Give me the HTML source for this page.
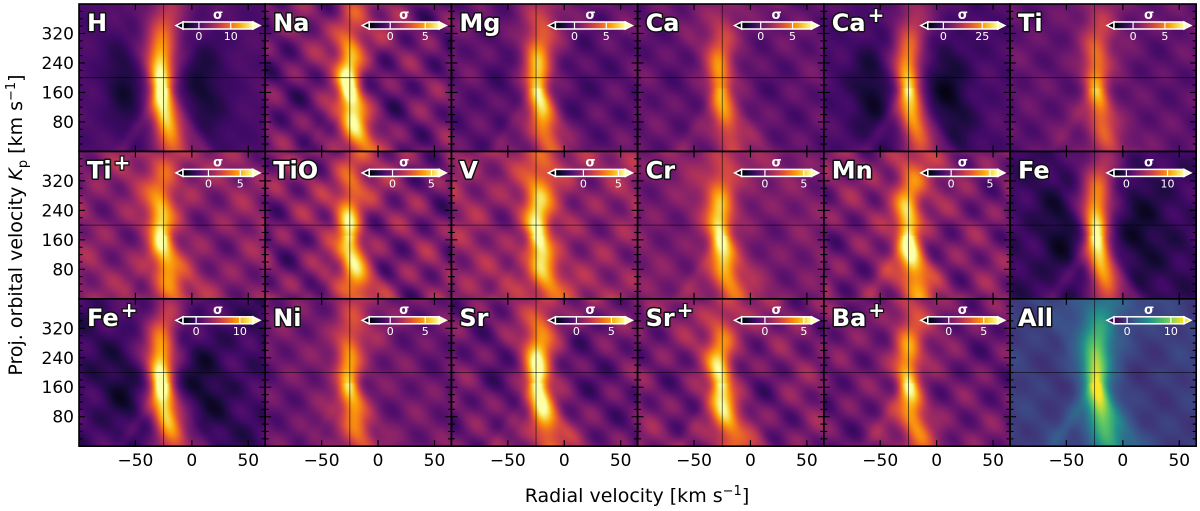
<!DOCTYPE html>
<html><head><meta charset="utf-8">
<style>
html,body{margin:0;padding:0;background:#fff;}
#wrap{position:relative;width:1200px;height:511px;overflow:hidden;font-family:"DejaVu Sans","Liberation Sans",sans-serif;}
canvas{position:absolute;image-rendering:auto;}
svg{position:absolute;left:0;top:0;}
</style></head>
<body>
<div id="wrap">
<svg id="ov" width="1200" height="511"></svg>
</div>
<script>
// ---- data ----
const species = ["H","Na","Mg","Ca","Ca+","Ti","Ti+","TiO","V","Cr","Mn","Fe","Fe+","Ni","Sr","Sr+","Ba+","All"];
const peakSigma = [15,6,6,4.5,25,4.5,5,4.5,5,4.5,5,11,11,4.5,6,4.5,5,10];
const cbMin = [-5,-3,-3,-3,-10,-3,-4,-3,-4,-3,-3,-3,-3,-3,-3,-3,-3,-3];
const cbMax = [17,7,8,8,35,8,7,6,6,6,6,14,13,7,7,6,7,13];
const cbHigh = [10,5,5,5,25,5,5,5,5,5,5,10,10,5,5,5,5,10];
const negLobe = [0.22,0.05,0.15,0.05,0.3,0.05,0.05,0.03,0.12,0.03,0.05,0.18,0.14,0.03,0.1,0.1,0.05,0.05];
const textureAmp = [0.6,1.6,0.9,0.8,2,0.7,1.3,1.6,1.3,0.7,1.3,1.0,1.2,0.9,1.3,1.2,1.2,0.6];
const xTicks = [-50,0,50];
const yTicks = [80,160,240,320];
const vRange = [-100,65];
const kRange = [0,400];
const vSys = -25, kpLine = 200;

// ---- geometry ----
const X0=79, Y0=4, PW=186.2, PH=147.4;
const NS="http://www.w3.org/2000/svg";
const ov=document.getElementById('ov');
const wrap=document.getElementById('wrap');
function mk(tag,attrs,parent){const e=document.createElementNS(NS,tag);for(const k in attrs)e.setAttribute(k,attrs[k]);(parent||ov).appendChild(e);return e;}

const inferno=[[0,0,0,4],[0.1,22,11,57],[0.2,66,10,104],[0.3,106,23,110],[0.4,147,38,103],[0.5,188,55,84],[0.6,221,81,58],[0.7,243,120,25],[0.8,252,165,10],[0.9,246,215,70],[1,252,255,164]];
const viridis=[[0,68,1,84],[0.25,59,82,139],[0.5,33,145,140],[0.75,94,201,98],[1,253,231,37]];
function cmap(stops,t){t=Math.max(0,Math.min(1,t));for(let i=1;i<stops.length;i++){if(t<=stops[i][0]){const a=stops[i-1],b=stops[i],f=(t-a[0])/(b[0]-a[0]);return [a[1]+f*(b[1]-a[1]),a[2]+f*(b[2]-a[2]),a[3]+f*(b[3]-a[3])];}}const l=stops[stops.length-1];return [l[1],l[2],l[3]];}

function xs(v,px){return px+(v-vRange[0])/(vRange[1]-vRange[0])*PW;}
function ys(k,py){return py+PH-(k-kRange[0])/(kRange[1]-kRange[0])*PH;}

species.forEach((sp,i)=>{
  const col=i%6,row=Math.floor(i/6);
  const px=X0+col*PW, py=Y0+row*PH;
  const stops = sp==="All"?viridis:inferno;
  const cw=120,ch=96;
  const cv=document.createElement('canvas');
  cv.width=cw;cv.height=ch;
  cv.style.left=px+'px';cv.style.top=py+'px';cv.style.width=PW+'px';cv.style.height=PH+'px';
  
  
  wrap.insertBefore(cv,ov);
  const ctx=cv.getContext('2d');const img=ctx.createImageData(cw,ch);
  const A=peakSigma[i], T=textureAmp[i], N=negLobe[i];
  const range=cbMax[i]-cbMin[i];
  for(let r=0;r<ch;r++){
    const kp=kRange[1]-(r+0.5)/ch*(kRange[1]-kRange[0]);
    const dk=kp-165;
    const vc=-25-0.03*dk+0.00025*dk*dk + (i%3-1)*2;
    const w=6+Math.abs(dk)*0.02;
    const env=Math.exp(-dk*dk/(2*130*130));
    for(let c=0;c<cw;c++){
      const v=vRange[0]+(c+0.5)/cw*(vRange[1]-vRange[0]);
      const d=v-vc;
      let s=A*env*Math.exp(-d*d/(2*w*w));
      s+=0.25*A*Math.exp(-d*d/(2*(w*2.5)**2))*(0.5+0.5*env);
      s+=0.12*A*(Math.exp(-((v+25-0.22*(kp-170))**2)/(2*5*5))+Math.exp(-((v+25+0.22*(kp-170))**2)/(2*5*5)))*(kp<170?1:0.4);
      s-=N*A*env*(Math.exp(-((d+30)**2)/(2*14*14))+Math.exp(-((d-32)**2)/(2*16*16)));
      const ph=i*1.7;
      s+=T*0.45*Math.sin((v+0.35*kp)/6+ph);
      s+=T*0.35*Math.sin((v-0.3*kp)/7.5+ph*0.6);
      s+=T*0.25*Math.sin(v/13+kp/70+ph*1.3);
      const t=(s-cbMin[i])/range;
      const [R,G,B]=cmap(stops,t);
      const o=(r*cw+c)*4;img.data[o]=R;img.data[o+1]=G;img.data[o+2]=B;img.data[o+3]=255;
    }
  }
  ctx.putImageData(img,0,0);

  const g=mk('g',{});
  
  
  mk('line',{x1:xs(vSys,px),x2:xs(vSys,px),y1:py,y2:py+PH,stroke:'#000','stroke-width':0.8,'stroke-opacity':0.7},g);
  mk('line',{x1:px,x2:px+PW,y1:ys(kpLine,py),y2:ys(kpLine,py),stroke:'#000','stroke-width':0.8,'stroke-opacity':0.7},g);
  xTicks.forEach(v=>{const x=xs(v,px);
    mk('line',{x1:x,x2:x,y1:py+PH,y2:py+PH-6,stroke:'#000','stroke-width':1.2},g);
    mk('line',{x1:x,x2:x,y1:py,y2:py+6,stroke:'#000','stroke-width':1.2},g);});
  for(let k=20;k<400;k+=20){const y=ys(k,py);const maj=k%80===0;const L=maj?6:3.5;
    mk('line',{x1:px,x2:px+L,y1:y,y2:y,stroke:'#000','stroke-width':1.1},g);
    mk('line',{x1:px+PW,x2:px+PW-L,y1:y,y2:y,stroke:'#000','stroke-width':1.1},g);}
  mk('rect',{x:px,y:py,width:PW,height:PH,fill:'none',stroke:'#000','stroke-width':1.6},g);
  const lab=sp.replace('+','');
  const t=mk('text',{x:px+8,y:py+27,'font-size':24,'font-weight':'bold',fill:'#fff',stroke:'#111','stroke-width':3,'paint-order':'stroke','stroke-linejoin':'round'},g);
  t.textContent=lab;
  
  
  if(sp.includes('+')){const w=t.getComputedTextLength();
    const p=mk('text',{x:px+10+w,y:py+18,'font-size':20,'font-weight':'bold',fill:'#fff',stroke:'#111','stroke-width':2.5,'paint-order':'stroke'},g);p.textContent='+';}
  const cx0=px+104,cx1=px+174,cy=py+18,chh=7;
  const gid='cg'+i;const defs=mk('defs',{},g);const lg=mk('linearGradient',{id:gid,x1:0,x2:1,y1:0,y2:0},defs);
  for(let s=0;s<=10;s++){const [R,G,B]=cmap(stops,s/10);mk('stop',{offset:s/10,'stop-color':`rgb(${R|0},${G|0},${B|0})`},lg);}
  const cb=mk('g',{},g);
  
  
  const c0=cmap(stops,0),c1=cmap(stops,1);
  mk('polygon',{points:`${cx0-7},${cy+chh/2} ${cx0},${cy} ${cx0},${cy+chh}`,fill:`rgb(${c0[0]|0},${c0[1]|0},${c0[2]|0})`,stroke:'#fff','stroke-width':1.5},cb);
  mk('polygon',{points:`${cx1+7},${cy+chh/2} ${cx1},${cy} ${cx1},${cy+chh}`,fill:`rgb(${c1[0]|0},${c1[1]|0},${c1[2]|0})`,stroke:'#fff','stroke-width':1.5},cb);
  mk('rect',{x:cx0,y:cy,width:cx1-cx0,height:chh,fill:`url(#${gid})`,stroke:'#fff','stroke-width':1.5},cb);
  const cbx=v=>cx0+(v-cbMin[i])/(cbMax[i]-cbMin[i])*(cx1-cx0);
  [0,cbHigh[i]].forEach(v=>{const x=cbx(v);
    mk('line',{x1:x,x2:x,y1:cy,y2:cy+chh,stroke:'#fff','stroke-width':1.2},cb);
    const tt=mk('text',{x:x,y:cy+chh+11,'font-size':11,fill:'#fff','text-anchor':'middle'},cb);tt.textContent=v;});
  const sg=mk('text',{x:(cx0+cx1)/2,y:cy-3,'font-size':13,'font-weight':'bold',fill:'#fff','text-anchor':'middle'},cb);sg.textContent='σ';
  if(row===2){xTicks.forEach(v=>{const tl=mk('text',{x:xs(v,px),y:py+PH+20,'font-size':17,'text-anchor':'middle',fill:'#000'});tl.textContent=(v<0?'−':'')+Math.abs(v);
    });}
  if(col===0){yTicks.forEach(k=>{const tl=mk('text',{x:px-5,y:ys(k,py)+6,'font-size':17,'text-anchor':'end',fill:'#000'});tl.textContent=k;
    });}
});
const xl=mk('text',{x:637,y:502,'font-size':19,'text-anchor':'middle',fill:'#000'});
xl.innerHTML='Radial velocity [km s<tspan dy="-7" font-size="13">−1</tspan><tspan dy="7">]</tspan>';

const yl=mk('text',{x:0,y:0,'font-size':19,'text-anchor':'middle',fill:'#000',transform:'translate(22,225) rotate(-90)'});
yl.innerHTML='Proj. orbital velocity <tspan font-style="italic">K</tspan><tspan dy="5" font-size="13">p</tspan><tspan dy="-5"> [km s</tspan><tspan dy="-7" font-size="13">−1</tspan><tspan dy="7">]</tspan>';

</script>
</body></html>
